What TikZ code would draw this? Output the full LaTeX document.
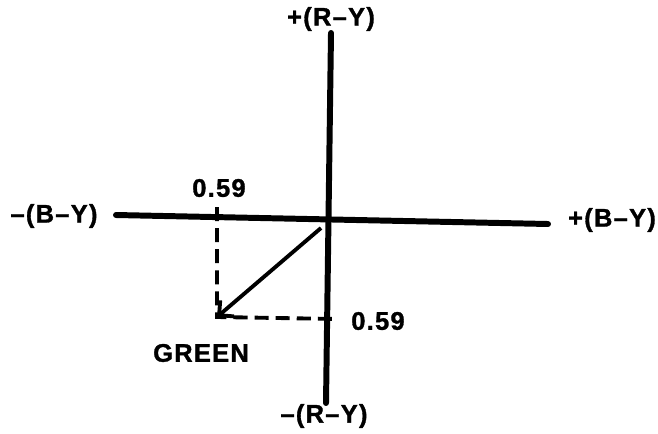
\documentclass[tikz,border=0pt]{standalone}
\usepackage{fontspec}
\setmainfont{Liberation Sans}
\newfontfamily\lblfont[LetterSpace=5,FakeBold=1.2]{Liberation Sans Bold}
\usetikzlibrary{arrows.meta}

\begin{document}
\begin{tikzpicture}[x=0.02cm,y=-0.02cm,>={Straight Barb[length=6pt,width=12pt]},
    axisline/.style={line width=3.4pt,line cap=round},
    dashline/.style={line width=2.2pt,dash pattern=on 8pt off 4pt},
    lbl/.style={font=\lblfont\fontsize{14.5}{16}\selectfont,inner sep=0pt}]
    \useasboundingbox (0,0) rectangle (658,433);
    \coordinate (Rtop) at (331,33);
    \coordinate (Rbot) at (326,403);
    \coordinate (Bl) at (116,215);
    \coordinate (Br) at (548,224);
    \coordinate (A) at (321,228);
    \coordinate (G) at (217,317);
    \coordinate (Bt) at (217,207);
    \coordinate (Rt) at (338,319);
    \draw[axisline] (Bl) -- (Br);
    \draw[axisline] (Rtop) -- (Rbot);
    \draw[dashline] (Bt) -- (G) -- (Rt);
    \draw[->,line width=2.2pt] (A) -- (G);
    \node[lbl] (rp) at (331,19) {+(R–Y)};
    \node[lbl] (rm) at (324,416) {–(R–Y)};
    \node[lbl] (bm) at (54,216) {–(B–Y)};
    \node[lbl] (bp) at (612,220) {+(B–Y)};
    \node[lbl] (xb) at (219,188) {0.59};
    \node[lbl] (xr) at (378,321) {0.59};
    \node[lbl] (gr) at (201,353) {GREEN};
\end{tikzpicture}
\end{document}
